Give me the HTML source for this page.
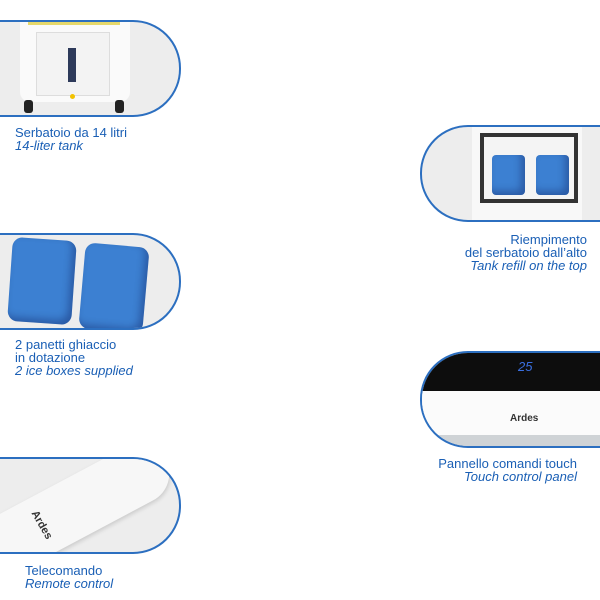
<!DOCTYPE html>
<html><head><meta charset="utf-8"><style>
body{margin:0;width:600px;height:600px;background:#fff;position:relative;overflow:hidden;font-family:"Liberation Sans",sans-serif}
.p{position:absolute;border:2px solid #2c6fc0;background:#ededed;overflow:hidden;box-sizing:border-box}
.l{left:-4px;width:185px;height:97px;border-radius:0 48px 48px 0}
.r{left:420px;width:190px;height:97px;border-radius:48px 0 0 48px}
.t{position:absolute;color:#1a5fb5;font-size:13px;line-height:13px}
.t i{font-style:italic}
.pack{position:absolute;background:#3c80d2;border-radius:10px;box-shadow:inset -4px -4px 8px rgba(0,0,60,.3)}
</style></head><body>

<div class="p l" style="top:20px">
 <div style="position:absolute;left:22px;top:0;width:110px;height:80px;background:#fafafa;border-radius:0 0 10px 10px"></div>
 <div style="position:absolute;left:30px;top:0;width:92px;height:3px;background:#e6d86a"></div>
 <div style="position:absolute;left:38px;top:10px;width:72px;height:62px;background:#f3f3f3;border:1px solid #ddd"></div>
 <div style="position:absolute;left:70px;top:26px;width:8px;height:34px;background:#2d3a5a"></div>
 <div style="position:absolute;left:72px;top:72px;width:5px;height:5px;border-radius:50%;background:#f2c200"></div>
 <div style="position:absolute;left:26px;top:78px;width:9px;height:13px;background:#222;border-radius:3px"></div>
 <div style="position:absolute;left:117px;top:78px;width:9px;height:13px;background:#222;border-radius:3px"></div>
</div>
<div class="t" style="left:15px;top:126px">Serbatoio da 14 litri<br><i>14-liter tank</i></div>

<div class="p l" style="top:233px">
 <div class="pack" style="left:12px;top:4px;width:64px;height:84px;transform:rotate(4deg)"></div>
 <div class="pack" style="left:84px;top:10px;width:64px;height:86px;transform:rotate(5deg)"></div>
</div>
<div class="t" style="left:15px;top:338px">2 panetti ghiaccio<br>in dotazione<br><i>2 ice boxes supplied</i></div>

<div class="p l" style="top:457px">
 <div style="position:absolute;left:-30px;top:20px;width:210px;height:60px;background:#f7f7f7;border-radius:30px;transform:rotate(-28deg);box-shadow:0 2px 4px rgba(0,0,0,.15)"></div>
 <div style="position:absolute;left:28px;top:60px;font-size:11px;font-weight:bold;color:#333;transform:rotate(60deg)">Ardes</div>
</div>
<div class="t" style="left:25px;top:564px">Telecomando<br><i>Remote control</i></div>

<div class="p r" style="top:125px">
 <div style="position:absolute;left:50px;top:0;width:110px;height:97px;background:#f8f8f8"></div>
 <div style="position:absolute;left:58px;top:6px;width:98px;height:70px;background:#333"></div>
 <div style="position:absolute;left:62px;top:10px;width:90px;height:62px;background:#f4f4f4"></div>
 <div class="pack" style="left:70px;top:28px;width:33px;height:40px;border-radius:4px"></div>
 <div class="pack" style="left:114px;top:28px;width:33px;height:40px;border-radius:4px"></div>
</div>
<div class="t" style="left:400px;top:233px;width:187px;text-align:right">Riempimento<br>del serbatoio dall’alto<br><i>Tank refill on the top</i></div>

<div class="p r" style="top:351px">
 <div style="position:absolute;left:0;top:0;width:190px;height:38px;background:#0d0d0d"></div>
 <div style="position:absolute;left:96px;top:6px;color:#3a6fe0;font-size:13px;font-style:italic">25</div>
 <div style="position:absolute;left:0;top:38px;width:190px;height:44px;background:#fbfbfb"></div>
 <div style="position:absolute;left:88px;top:60px;font-size:10px;font-weight:bold;color:#333">Ardes</div>
 <div style="position:absolute;left:0;top:82px;width:190px;height:15px;background:#cfd3d6"></div>
</div>
<div class="t" style="left:400px;top:457px;width:177px;text-align:right">Pannello comandi touch<br><i>Touch control panel</i></div>
</body></html>
